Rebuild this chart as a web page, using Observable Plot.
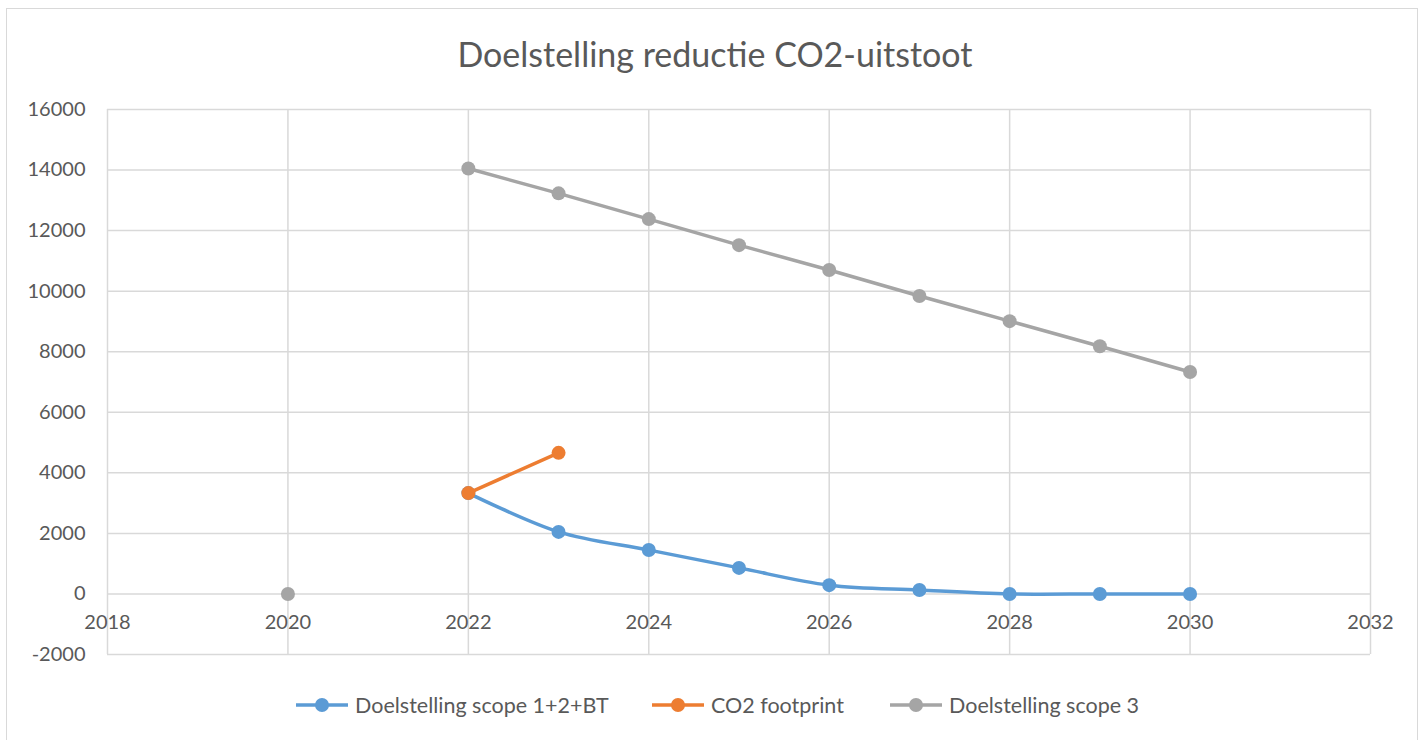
<!DOCTYPE html>
<html><head><meta charset="utf-8">
<script src="https://cdn.jsdelivr.net/npm/d3@7"></script>
<script src="https://cdn.jsdelivr.net/npm/@observablehq/plot@0.6"></script>
<style>
body{margin:0;background:#fff;font-family:Lato,"Open Sans",sans-serif;}
#wrap{position:relative;width:1427px;height:740px;overflow:hidden;background:#fff;}
#frame{position:absolute;left:6px;top:8px;width:1410px;height:780px;border:1.5px solid #d9d9d9;}
#title{position:absolute;left:0;width:1430px;top:33px;text-align:center;font-size:34px;color:#595959;}
#chart{position:absolute;left:0;top:0;}
.leg{position:absolute;top:692px;display:flex;align-items:center;font-size:21.5px;color:#595959;white-space:nowrap;}
.leg svg{margin-right:7px;}
</style>
</head><body>
<div id="wrap">
  <div id="frame"></div>
  <div id="chart"></div>
  <div id="title">Doelstelling reductie CO2-uitstoot</div>
  <div id="legend"></div>
</div>
<script>
const years = [2020, 2021, 2022, 2023, 2024, 2025, 2026, 2027, 2028, 2029, 2030];
const scope12BT = [null, null, 3330, 2050, 1450, 860, 290, 130, 0, 0, 0];
const co2Footprint = [null, null, 3330, 4660, null, null, null, null, null, null, null];
const scope3 = [0, null, 14050, 13230, 12380, 11520, 10700, 9840, 9010, 8180, 7330];
const xTicks = [2018, 2020, 2022, 2024, 2026, 2028, 2030, 2032];
const yTicks = [-2000, 0, 2000, 4000, 6000, 8000, 10000, 12000, 14000, 16000];
const seriesNames = ["Doelstelling scope 1+2+BT", "CO2 footprint", "Doelstelling scope 3"];
const seriesColors = ["#5b9bd5", "#ed7d31", "#a5a5a5"];

const toRows = vals => years.map((yr, i) => ({year: yr, value: vals[i] == null ? NaN : vals[i]}));
const series = [scope12BT, co2Footprint, scope3].map(toRows);

const marks = [
  Plot.gridX(xTicks, {stroke: "#d9d9d9", strokeOpacity: 1, strokeWidth: 1.5}),
  Plot.gridY(yTicks, {stroke: "#d9d9d9", strokeOpacity: 1, strokeWidth: 1.5}),
  Plot.axisY(yTicks, {tickSize: 0, tickPadding: 22, fontSize: 20, fill: "#595959", label: null, tickFormat: d => String(d)}),
  Plot.text(xTicks, {x: d => d, y: () => 0, dy: 29, text: d => String(d), fontSize: 20, fill: "#595959"})
];
series.forEach((rows, i) => {
  marks.push(Plot.line(rows, {x: "year", y: "value", stroke: seriesColors[i], strokeWidth: 3.5, curve: i === 0 ? "catmull-rom" : "linear"}));
  marks.push(Plot.dot(rows.filter(r => !isNaN(r.value)), {x: "year", y: "value", r: 7, fill: seriesColors[i], stroke: "none"}));
});

const plot = Plot.plot({
  width: 1427,
  height: 680,
  marginTop: 109,
  marginBottom: 26,
  marginLeft: 107,
  marginRight: 57,
  style: {fontFamily: "Lato, 'Open Sans', sans-serif", background: "transparent"},
  x: {domain: [2018, 2032], axis: null},
  y: {domain: [-2000, 16000]},
  marks
});
document.getElementById("chart").appendChild(plot);

const legendLeft = [296, 652, 890];
const legend = document.getElementById("legend");
seriesNames.forEach((name, i) => {
  const item = document.createElement("div");
  item.className = "leg";
  item.style.left = legendLeft[i] + "px";
  item.innerHTML = `<svg width="52" height="16"><line x1="0" y1="8" x2="52" y2="8" stroke="${seriesColors[i]}" stroke-width="3.5"/><circle cx="26" cy="8" r="7" fill="${seriesColors[i]}"/></svg><span>${name}</span>`;
  legend.appendChild(item);
});
</script>
</body></html>
